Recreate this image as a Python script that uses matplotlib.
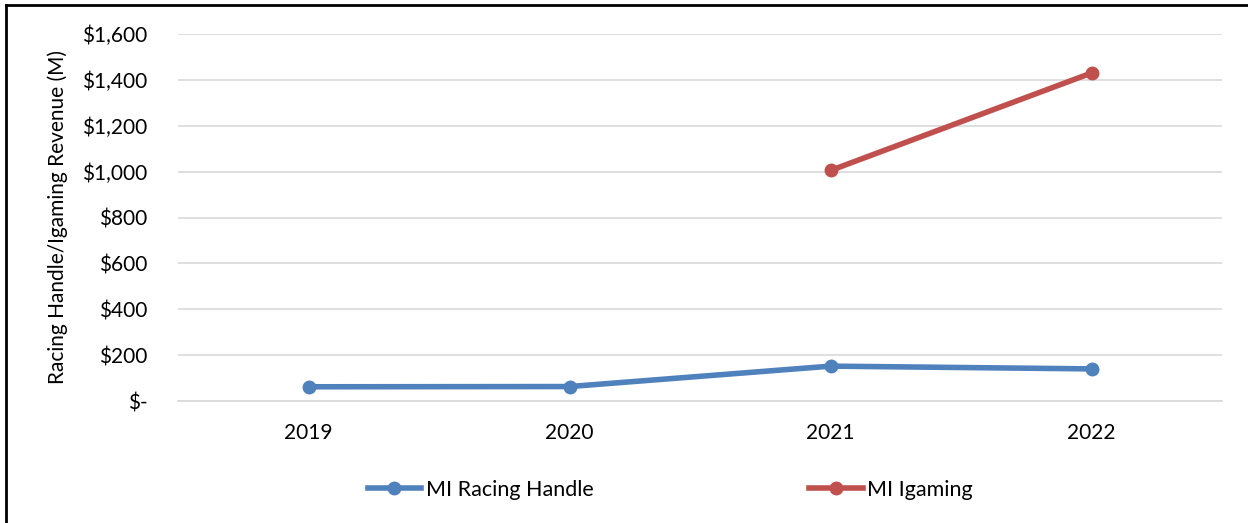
import matplotlib
matplotlib.use("Agg")
import matplotlib.pyplot as plt
from matplotlib.lines import Line2D

plt.rcParams['font.family'] = ['Lato', 'DejaVu Sans']

years = ["2019", "2020", "2021", "2022"]
racing_handle = [62, 63, 152, 140]
igaming_years = ["2021", "2022"]
igaming = [1005, 1430]
yticks = [0, 200, 400, 600, 800, 1000, 1200, 1400, 1600]
ytick_labels = ["$-", "$200", "$400", "$600", "$800", "$1,000", "$1,200", "$1,400", "$1,600"]

W, H = 1248, 523
fig = plt.figure(figsize=(W / 100, H / 100), dpi=100)
ax = fig.add_axes([178 / W, 1 - 401 / H, (1222 - 178) / W, (401 - 34) / H])

xpos = list(range(len(years)))
ig_pos = [years.index(y) for y in igaming_years]

blue = "#4F81BD"
red = "#C0504D"
LW, MS = 4.0, 9
ax.plot(xpos, racing_handle, color=blue, lw=LW, marker="o", ms=MS,
        solid_capstyle="round", label="MI Racing Handle", zorder=3)
ax.plot(ig_pos, igaming, color=red, lw=LW, marker="o", ms=MS,
        solid_capstyle="round", label="MI Igaming", zorder=3)

ax.set_xlim(-0.5, 3.5)
ax.set_ylim(0, 1600)
ax.set_yticks(yticks)
ax.set_yticklabels(ytick_labels)
ax.set_xticks(xpos)
ax.set_xticklabels(years)
ax.grid(axis="y", color="#D9D9D9", lw=1.2)
ax.set_axisbelow(True)
for s in ["top", "right", "left"]:
    ax.spines[s].set_visible(False)
ax.spines["bottom"].set_color("#D9D9D9")
ax.spines["bottom"].set_linewidth(1.2)
ax.tick_params(axis="both", length=0, labelsize=15, colors="black")
ax.tick_params(axis="y", pad=22)
ax.tick_params(axis="x", pad=16)
ax.set_ylabel("Racing Handle/Igaming Revenue (M)", fontsize=15, labelpad=10)

handles = [Line2D([0], [0], color=blue, lw=LW, marker="o", ms=MS),
           Line2D([0], [0], color=red, lw=LW, marker="o", ms=MS)]
fig.legend(handles, ["MI Racing Handle", "MI Igaming"], loc="center",
           bbox_to_anchor=(670 / W, 1 - 490 / H), ncol=2, frameon=False,
           fontsize=15.5, handlelength=2.5, handletextpad=0.2, columnspacing=10)

# outer frame
fig.add_artist(Line2D([6 / W, 6 / W], [0, 1 - 5 / H], color="black", lw=2,
                      transform=fig.transFigure))
fig.add_artist(Line2D([6 / W, 1], [1 - 5 / H, 1 - 5 / H], color="black", lw=2,
                      transform=fig.transFigure))

fig.savefig("out.png", dpi=100)
